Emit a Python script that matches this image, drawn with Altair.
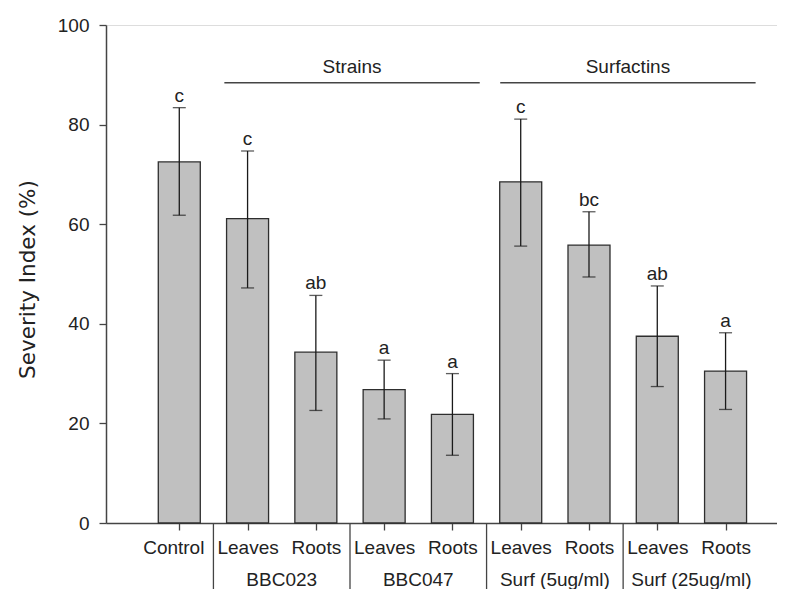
import json
import altair as alt
import pandas as pd

# ---- data ----
categories = ["Control", "Leaves", "Roots", "Leaves", "Roots", "Leaves", "Roots", "Leaves", "Roots"]
positions = [1, 2, 3, 4, 5, 6, 7, 8, 9]
means = [72.5, 61.1, 34.3, 26.8, 21.8, 68.5, 55.8, 37.5, 30.5]
err_low = [61.8, 47.2, 22.6, 20.9, 13.6, 55.6, 49.4, 27.4, 22.8]
err_high = [83.4, 74.7, 45.7, 32.7, 30.0, 81.1, 62.5, 47.6, 38.2]
letters = ["c", "c", "ab", "a", "a", "c", "bc", "ab", "a"]

group_names = ["BBC023", "BBC047", "Surf (5ug/ml)", "Surf (25ug/ml)"]
group_centers = [2.5, 4.5, 6.5, 8.5]
separators = [1.5, 3.5, 5.5, 7.5]

header_names = ["Strains", "Surfactins"]
header_start = [1.66, 5.70]
header_end = [5.40, 9.44]
header_line_level = [88.4, 88.4]
header_text_level = [90.3, 90.3]

y_ticks = [0, 20, 40, 60, 80, 100]

# ---- style ----
W, H = 671, 498
FONT = "Liberation Sans"
TEXT = "#222222"
AX = "#444444"

df = pd.DataFrame({"pos": positions, "cat": categories, "mean": means,
                   "lo": err_low, "hi": err_high, "letter": letters})
gdf = pd.DataFrame({"name": group_names, "center": group_centers})
sdf = pd.DataFrame({"sep": separators})
hdf = pd.DataFrame({"name": header_names, "start": header_start, "end": header_end,
                    "level": header_line_level, "tlevel": header_text_level})
hdf["mid"] = (hdf["start"] + hdf["end"]) / 2

xs = alt.Scale(domain=[0, 9.68], nice=False, zero=False)
ys = alt.Scale(domain=[0, 100], nice=False)

label_expr = json.dumps(categories) + "[datum.value - 1]"

x_axis = alt.Axis(values=positions, labelExpr=label_expr, title=None, grid=False,
                  tickSize=7, tickColor=AX, tickWidth=1.3, domainColor=AX, domainWidth=1.5,
                  labelFont=FONT, labelFontSize=19, labelColor=TEXT, labelPadding=8,
                  labelBaseline="top",
                  labelOffset={"condition": {"test": "datum.value === 1", "value": -6}, "value": 0})
y_axis = alt.Axis(values=y_ticks, title="Severity Index (%)", grid=False,
                  tickSize=7, tickColor=AX, tickWidth=1.3, domainColor=AX, domainWidth=1.5,
                  labelFont=FONT, labelFontSize=19, labelColor=TEXT, labelPadding=10,
                  titleFont="DejaVu Sans", titleFontSize=21.5, titleFontWeight="normal",
                  titleColor=TEXT, titleX=-78, titleY=254, titleAngle=-90,
                  titleAlign="center", titleBaseline="middle")

base = alt.Chart(df)

bars = base.mark_bar(size=42, color="#c0c0c0", stroke="#2e2e2e", strokeWidth=1.3).encode(
    x=alt.X("pos:Q", scale=xs, axis=x_axis),
    y=alt.Y("mean:Q", scale=ys, axis=y_axis),
)

err = base.mark_rule(color="#1a1a1a", strokeWidth=1.3).encode(
    x=alt.X("pos:Q", scale=xs), y=alt.Y("lo:Q", scale=ys), y2="hi:Q")

cap_hi = base.mark_tick(orient="horizontal", size=13, thickness=1.3, color="#1a1a1a").encode(
    x=alt.X("pos:Q", scale=xs), y=alt.Y("hi:Q", scale=ys))
cap_lo = base.mark_tick(orient="horizontal", size=13, thickness=1.3, color="#1a1a1a").encode(
    x=alt.X("pos:Q", scale=xs), y=alt.Y("lo:Q", scale=ys))

sig = base.mark_text(baseline="alphabetic", dy=-6, fontSize=19, font=FONT, color=TEXT).encode(
    x=alt.X("pos:Q", scale=xs), y=alt.Y("hi:Q", scale=ys), text="letter:N")

seps = alt.Chart(sdf).mark_rule(color=AX, strokeWidth=1.3).encode(
    x=alt.X("sep:Q", scale=xs), y=alt.value(H), y2=alt.value(H + 80))

glabels = alt.Chart(gdf).mark_text(baseline="alphabetic", fontSize=19, font=FONT, color=TEXT).encode(
    x=alt.X("center:Q", scale=xs), y=alt.value(H + 63), text="name:N")

hlines = alt.Chart(hdf).mark_rule(color=AX, strokeWidth=1.5).encode(
    x=alt.X("start:Q", scale=xs), x2="end:Q", y=alt.Y("level:Q", scale=ys))

htext = alt.Chart(hdf).mark_text(baseline="alphabetic", fontSize=19, font=FONT, color=TEXT).encode(
    x=alt.X("mid:Q", scale=xs), y=alt.Y("tlevel:Q", scale=ys), text="name:N")

chart = alt.layer(bars, err, cap_hi, cap_lo, sig, seps, glabels, hlines, htext).properties(
    width=W, height=H,
    padding={"left": 98, "top": 17, "right": 0, "bottom": 66},
    autosize=alt.AutoSizeParams(type="none"),
).configure_view(stroke=None).configure(background="white")

chart.save("out.html", embed_options={"renderer": "svg", "actions": False})
